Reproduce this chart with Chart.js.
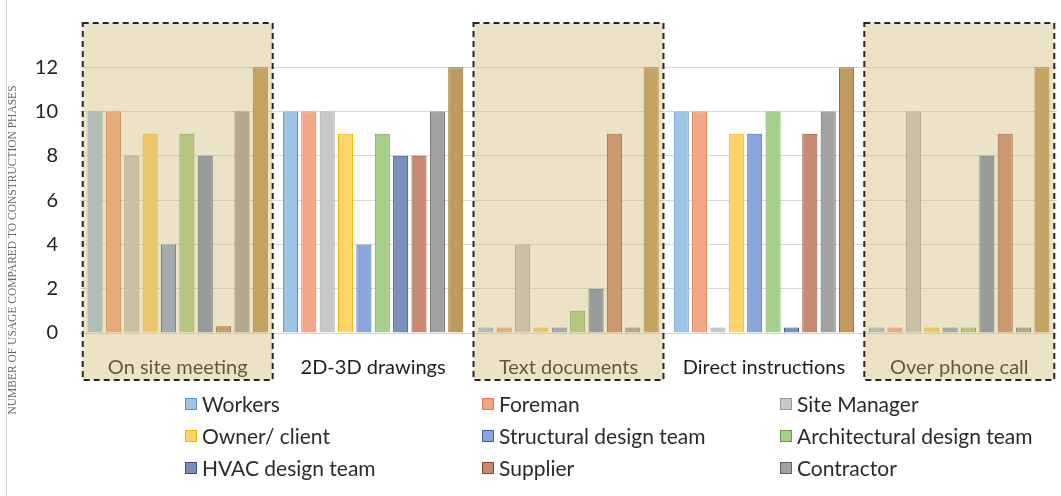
<!DOCTYPE html>
<html lang="en">
<head>
<meta charset="UTF-8">
<title>Usage per construction phase</title>
<script src="https://cdn.jsdelivr.net/npm/chart.js"></script>
<style>
  html, body { margin: 0; padding: 0; background: #fff; }
  #wrap { width: 1061px; height: 496px; position: relative; }
</style>
</head>
<body>
<div id="wrap"><canvas id="chart" width="1061" height="496"></canvas></div>
<script>
// categories (construction communication methods)
var phases = ["On site meeting", "2D-3D drawings", "Text documents", "Direct instructions", "Over phone call"];
var shadedPhases = [0, 2, 4];

// one list per stakeholder
var workers       = [10, 10, 0.25, 10, 0.25];
var foreman       = [10, 10, 0.25, 10, 0.25];
var siteManager   = [8, 10, 4, 0.25, 10];
var ownerClient   = [9, 9, 0.25, 9, 0.25];
var structural    = [4, 4, 0.25, 9, 0.25];
var architectural = [9, 9, 1, 10, 0.25];
var hvac          = [8, 8, 2, 0.25, 8];
var supplier      = [0.3, 8, 9, 9, 9];
var contractor    = [10, 10, 0.25, 10, 0.25];
var total         = [12, 12, 12, 12, 12];

var yTicks = [0, 2, 4, 6, 8, 10, 12];
var yTitle = "NUMBER OF USAGE COMPARED TO CONSTRUCTION PHASES";

function ds(label, data, fill, border, legend) {
  return { label: label, data: data, backgroundColor: fill, borderColor: border,
           borderWidth: 1, inLegend: legend };
}

var datasets = [
  ds("Workers", workers, "#9dc3e6", "#5b8fc7", true),
  ds("Foreman", foreman, "#f4a784", "#d9774a", true),
  ds("Site Manager", siteManager, "#c8c8c8", "#9a9a9a", true),
  ds("Owner/ client", ownerClient, "#ffd46a", "#f0b400", true),
  ds("Structural design team", structural, "#8aa6da", "#3f63a8", true),
  ds("Architectural design team", architectural, "#a7d08c", "#6a9e45", true),
  ds("HVAC design team", hvac, "#7890bb", "#34507e", true),
  ds("Supplier", supplier, "#c98a73", "#8e4526", true),
  ds("Contractor", contractor, "#a2a2a2", "#5e5e5e", true),
  ds("Total", total, "#bf9a5e", "#94701c", false)
];

var bgPlugin = {
  id: "bg",
  beforeDraw: function (chart) {
    var c = chart.ctx;
    c.save();
    c.fillStyle = "#ffffff";
    c.fillRect(0, 0, chart.width, chart.height);
    c.strokeStyle = "#d0d0d0";
    c.lineWidth = 1;
    c.beginPath();
    c.moveTo(6.5, 0);
    c.lineTo(6.5, chart.height);
    c.stroke();
    c.restore();
  }
};

var overlayPlugin = {
  id: "overlay",
  afterDatasetsDraw: function (chart) {
    var c = chart.ctx;
    var xs = chart.scales.x;
    var area = chart.chartArea;
    c.save();
    shadedPhases.forEach(function (i) {
      var cx = xs.getPixelForValue(i);
      var l = Math.max(cx - 95, area.left - 1);
      var r = Math.min(cx + 95, area.right + 1);
      var t = 23, b = 380;
      c.fillStyle = "rgba(205,180,105,0.38)";
      c.fillRect(l, t, r - l, b - t);
      c.setLineDash([6, 4]);
      c.lineWidth = 2;
      c.strokeStyle = "#262626";
      c.strokeRect(l, t, r - l, b - t);
    });
    c.restore();
  },
  afterDraw: function (chart) {
    var c = chart.ctx;
    c.save();
    // axis title
    c.translate(13, 250);
    c.rotate(-Math.PI / 2);
    c.font = "11.5px 'Liberation Serif'";
    c.fillStyle = "#666";
    c.textAlign = "center";
    c.textBaseline = "middle";
    c.fillText(yTitle, 0, 0);
    c.restore();

    // legend, 3 columns
    var colX = [185, 482, 780];
    var rowY = [405, 437, 469];
    c.save();
    c.font = "21px Lato";
    c.textBaseline = "middle";
    var items = chart.data.datasets.filter(function (d) { return d.inLegend; });
    items.forEach(function (d, k) {
      var x = colX[k % 3], y = rowY[Math.floor(k / 3)];
      c.fillStyle = d.backgroundColor;
      c.fillRect(x + 0.5, y - 6.5, 11, 11);
      c.strokeStyle = d.borderColor;
      c.lineWidth = 1;
      c.strokeRect(x + 0.5, y - 6.5, 11, 11);
      c.fillStyle = "#2b2b2b";
      c.fillText(d.label, x + 17, y);
    });
    c.restore();
  }
};

new Chart(document.getElementById("chart"), {
  type: "bar",
  data: { labels: phases, datasets: datasets },
  plugins: [bgPlugin, overlayPlugin],
  options: {
    responsive: false,
    animation: false,
    layout: { padding: { left: 0, right: 4, top: 28, bottom: 0 } },
    datasets: { bar: { categoryPercentage: 0.94, barPercentage: 0.82 } },
    plugins: { legend: { display: false }, tooltip: { enabled: false } },
    scales: {
      x: {
        grid: { display: false, drawTicks: false },
        border: { display: false },
        ticks: { padding: 23, color: "#1e1e1e", font: { family: "Lato", size: 20 } },
        afterFit: function (s) { s.height = 163; }
      },
      y: {
        min: 0,
        max: 13.5,
        afterBuildTicks: function (s) {
          s.ticks = yTicks.map(function (v) { return { value: v }; });
        },
        grid: { color: "#d9d9d9", drawTicks: false },
        border: { display: false },
        ticks: { padding: 22, color: "#222", font: { family: "Lato", size: 20 } },
        afterFit: function (s) { s.width = 80; }
      }
    }
  }
});
</script>
</body>
</html>
